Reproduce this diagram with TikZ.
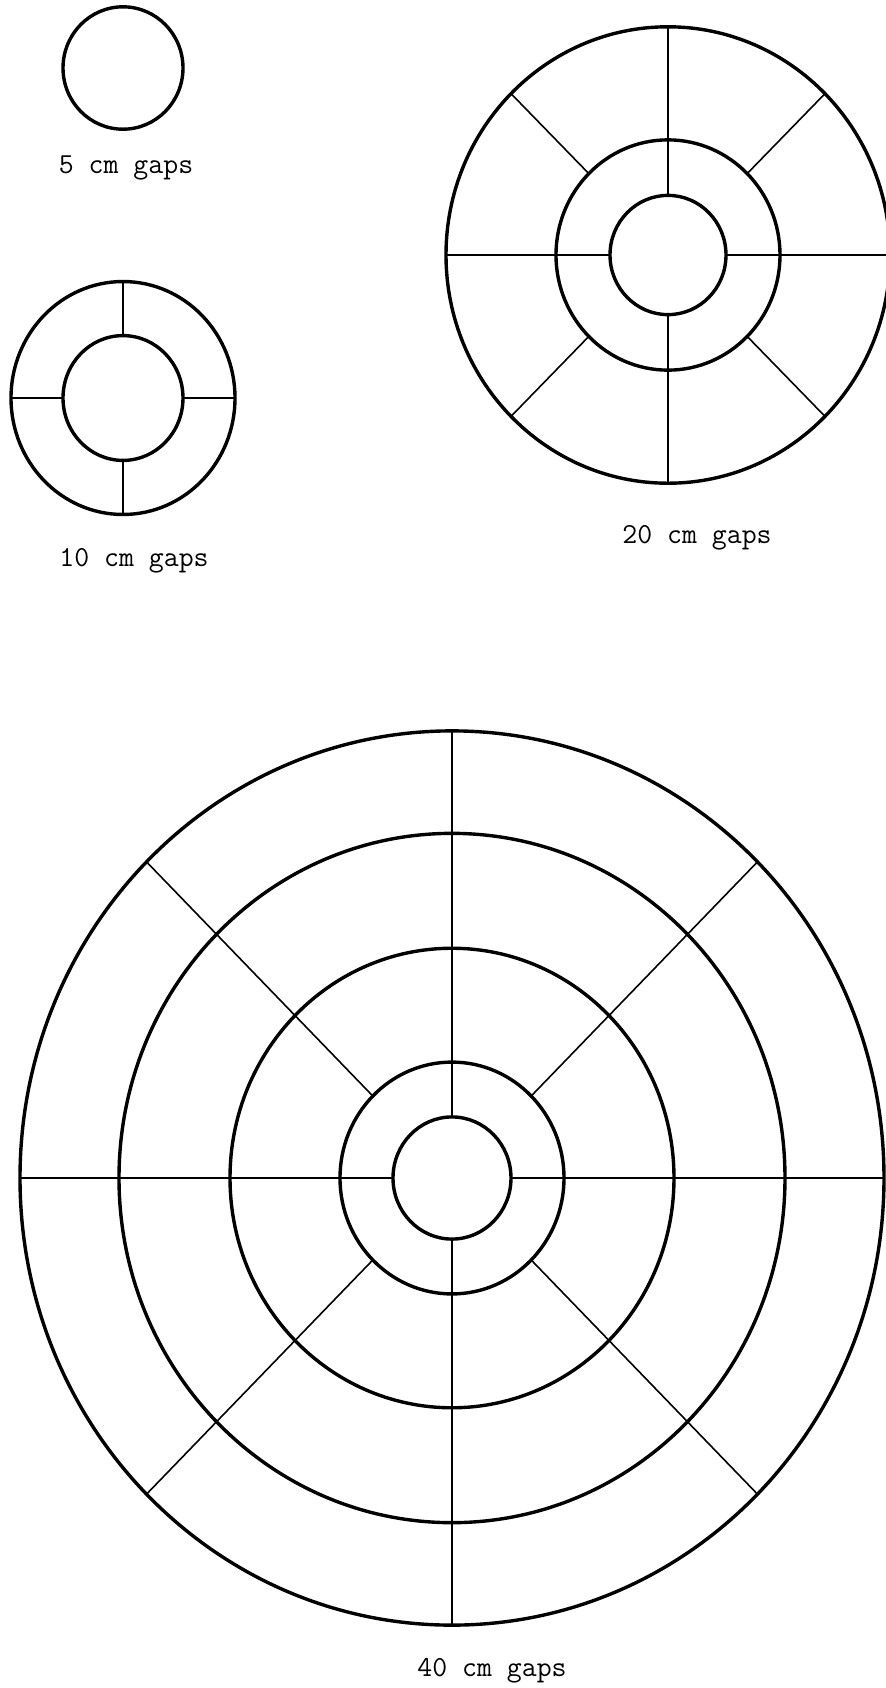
\documentclass[tikz,border=0pt]{standalone}

\begin{document}
\begin{tikzpicture}[
    x=0.5pt, y=-0.5pt,
    ring/.style={draw=black, line width=1.7pt},
    spoke/.style={draw=black, line width=0.8pt},
    caption/.style={font=\ttfamily\fontsize{14.5}{16}\selectfont, anchor=base, inner sep=0pt},
]
    \useasboundingbox (0,0) rectangle (885,1688);

    % 5 cm gaps
    \begin{scope}[shift={(123,68)}, yscale=1.02]
        \draw[ring] (0,0) circle (60);
    \end{scope}
    \node[caption] (gap5) at (126,173) {5 cm gaps};

    % 10 cm gaps
    \begin{scope}[shift={(123,398)}, yscale=1.04]
        \foreach \a in {0,90,180,270}
            \draw[spoke] (\a:60) -- (\a:112);
        \foreach \r in {60,112}
            \draw[ring] (0,0) circle (\r);
    \end{scope}
    \node[caption] (gap10) at (134,566) {10 cm gaps};

    % 20 cm gaps
    \begin{scope}[shift={(668,255)}, yscale=1.028]
        \foreach \a in {0,90,180,270}
            \draw[spoke] (\a:58) -- (\a:222);
        \foreach \a in {45,135,225,315}
            \draw[spoke] (\a:112) -- (\a:222);
        \foreach \r in {58,112,222}
            \draw[ring] (0,0) circle (\r);
    \end{scope}
    \node[caption] (gap20) at (697,543) {20 cm gaps};

    % 40 cm gaps
    \begin{scope}[shift={(452,1178)}, yscale=1.035]
        \foreach \a in {0,90,180,270}
            \draw[spoke] (\a:59) -- (\a:432);
        \foreach \a in {45,135,225,315}
            \draw[spoke] (\a:112) -- (\a:432);
        \foreach \r in {59,112,222,333,432}
            \draw[ring] (0,0) circle (\r);
    \end{scope}
    \node[caption] (gap40) at (492,1676) {40 cm gaps};
\end{tikzpicture}
\end{document}
